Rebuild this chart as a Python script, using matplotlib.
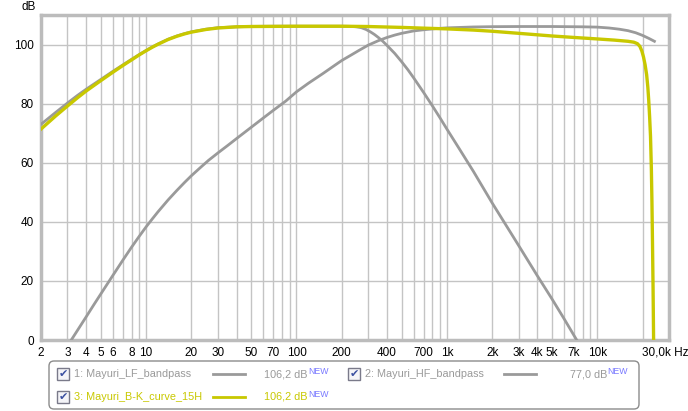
import matplotlib
matplotlib.use("Agg")
import matplotlib.pyplot as plt
from matplotlib.patches import FancyBboxPatch, Rectangle

plt.rcParams["font.family"] = ["Liberation Sans", "DejaVu Sans"]

# curve data (Hz, dB)
lf_freq = [2, 2.5, 3, 3.5, 4, 5, 6, 7, 8, 9, 10, 11, 12, 14, 16, 18, 20, 25,
           30, 40, 50, 70, 100, 200, 230, 250, 270, 290, 310, 330, 350, 375,
           400, 450, 500, 550, 600, 700, 800, 900, 1000, 1200, 1500, 2000,
           3000, 4000, 5000, 6000, 7300]
lf_db = [73.0, 77.0, 80.2, 82.8, 84.9, 88.2, 90.9, 93.1, 95.0, 96.6, 98.0,
         99.2, 100.2, 101.8, 102.9, 103.7, 104.3, 105.2, 105.7, 106.0, 106.15,
         106.2, 106.2, 106.2, 106.15, 106.0, 105.7, 105.1, 104.3, 103.4, 102.4,
         101.1, 99.7, 97.0, 94.2, 91.5, 88.8, 83.8, 79.3, 75.2, 71.4, 65.0,
         57.1, 46.4, 32.0, 21.7, 13.9, 7.3, 0.0]

hf_freq = [3.18, 3.5, 4, 4.5, 5, 6, 7, 8, 9, 10, 11, 12, 14, 16, 18, 20, 23,
           26, 30, 35, 40, 50, 60, 70, 85, 100, 120, 150, 180, 200, 230, 260,
           300, 350, 400, 450, 500, 600, 700, 850, 1000, 1500, 2000, 3000,
           5000, 8000, 10000, 12000, 14000, 16000, 18000, 20000, 22000, 24000]
hf_db = [0.0, 3.3, 7.9, 12.0, 15.6, 21.8, 27.0, 31.4, 35.1, 38.3, 41.0, 43.4,
         47.4, 50.6, 53.3, 55.6, 58.4, 60.8, 63.3, 65.9, 68.2, 72.0, 75.1,
         77.7, 80.9, 84.0, 86.9, 90.2, 93.0, 94.6, 96.4, 98.0, 99.8, 101.3,
         102.4, 103.2, 103.8, 104.6, 105.0, 105.4, 105.65, 105.95, 106.05,
         106.1, 106.1, 106.0, 105.9, 105.6, 105.2, 104.7, 104.0, 103.1, 102.1,
         101.1]

bk_freq = [2, 2.5, 3, 3.5, 4, 5, 6, 7, 8, 9, 10, 11, 12, 14, 16, 18, 20, 25,
           30, 40, 50, 100, 200, 300, 500, 700, 1000, 1500, 2000, 3000, 5000,
           7000, 10000, 13000, 16000, 17500, 18500, 19200, 19800, 20300, 20800,
           21300, 21700, 22000, 22300, 22600, 22900, 23100, 23300, 23500, 23700]
bk_db = [71.4, 75.8, 79.2, 82.0, 84.3, 87.8, 90.6, 92.9, 94.8, 96.5, 97.9,
         99.1, 100.1, 101.7, 102.8, 103.6, 104.2, 105.1, 105.6, 106.0, 106.1,
         106.2, 106.2, 106.1, 105.8, 105.55, 105.3, 104.9, 104.5, 103.8, 102.9,
         102.4, 101.9, 101.5, 101.1, 100.8, 100.3, 99.4, 97.8, 95.8, 93.2,
         89.8, 85.5, 81.0, 75.5, 69.0, 58.0, 47.0, 33.0, 18.0, 0.0]

tick_pos = [2, 3, 4, 5, 6, 8, 10, 20, 30, 50, 70, 100, 200, 400, 700, 1000,
            2000, 3000, 4000, 5000, 7000, 10000]
tick_lab = ["2", "3", "4", "5", "6", "8", "10", "20", "30", "50", "70", "100",
            "200", "400", "700", "1k", "2k", "3k", "4k", "5k", "7k", "10k"]
grid_pos = [m * 10 ** e for e in range(0, 5) for m in range(1, 10)
            if 2 <= m * 10 ** e <= 20000]
y_ticks = [0, 20, 40, 60, 80, 100]

legend_rows = [
    ("1: Mayuri_LF_bandpass", "106,2 dB", "#9a9a9a", 0),
    ("2: Mayuri_HF_bandpass", "77,0 dB", "#9a9a9a", 1),
    ("3: Mayuri_B-K_curve_15H", "106,2 dB", "#c8c800", 2),
]

GRAY = "#9a9a9a"
YEL = "#c8c800"
W, H = 688, 411

fig = plt.figure(figsize=(W / 100, H / 100), dpi=100)
ax = fig.add_axes([41 / W, 1 - 340 / H, (669 - 41) / W, (340 - 15) / H])

ax.plot(hf_freq, hf_db, color=GRAY, lw=2, zorder=3)
ax.plot(lf_freq, lf_db, color=GRAY, lw=2, zorder=3)
ax.plot(bk_freq, bk_db, color=YEL, lw=2.4, zorder=4)

ax.set_xscale("log")
ax.set_xlim(2, 30000)
ax.set_ylim(0, 110)
ax.set_xticks(grid_pos, minor=True)
ax.set_xticks(tick_pos, tick_lab)
ax.xaxis.set_minor_formatter(matplotlib.ticker.NullFormatter())
ax.set_yticks(y_ticks)
ax.tick_params(which="both", length=0, labelsize=8.5, pad=5)
ax.grid(True, which="both", axis="x", color="#c4c4c4", lw=1)
ax.grid(True, which="major", axis="y", color="#c4c4c4", lw=1)
for sp in ax.spines.values():
    sp.set_color("#bcbcbc")
    sp.set_linewidth(2.5)

ax.annotate("30,0k Hz", xy=(30000, 0), xycoords=("data", "axes fraction"),
            xytext=(-3, -5), textcoords="offset points", ha="center", va="top",
            fontsize=8.5)
fig.text(29 / W, 1 - 7 / H, "dB", ha="center", va="center", fontsize=8.5)

# legend panel in pixel coordinates
lg = fig.add_axes([0, 0, 1, 1])
lg.set_xlim(0, W)
lg.set_ylim(H, 0)
lg.axis("off")
lg.add_patch(FancyBboxPatch((49, 361), 590, 48,
                            boxstyle="round,pad=0,rounding_size=5",
                            fc="white", ec="#8c8c8c", lw=1))
cols = [57, 348]
for name, val, col, i in legend_rows:
    cx = cols[i % 2]
    cy = 374 if i < 2 else 396.5
    lg.add_patch(Rectangle((cx, cy - 6), 12, 12, fc="#f4f4f8", ec="#7a7a8a", lw=1))
    lg.text(cx + 6, cy, "\u2714", color="#3a4fa0", fontsize=8, ha="center",
            va="center", family="DejaVu Sans")
    lg.text(cx + 17, cy, name, color=col, fontsize=7.8, va="center")
    lx = cx + 156
    lg.plot([lx, lx + 32], [cy, cy], color=GRAY if i < 2 else YEL, lw=2)
    tx = cx + 251 if i != 1 else 607
    lg.text(tx, cy, val, color=col, fontsize=7.8, va="center", ha="right")
    lg.text(tx + 0.5, cy - 2.5, "NEW", color="#7878ff", fontsize=6.3, va="center")

fig.savefig("out.png", dpi=100, facecolor="white")
